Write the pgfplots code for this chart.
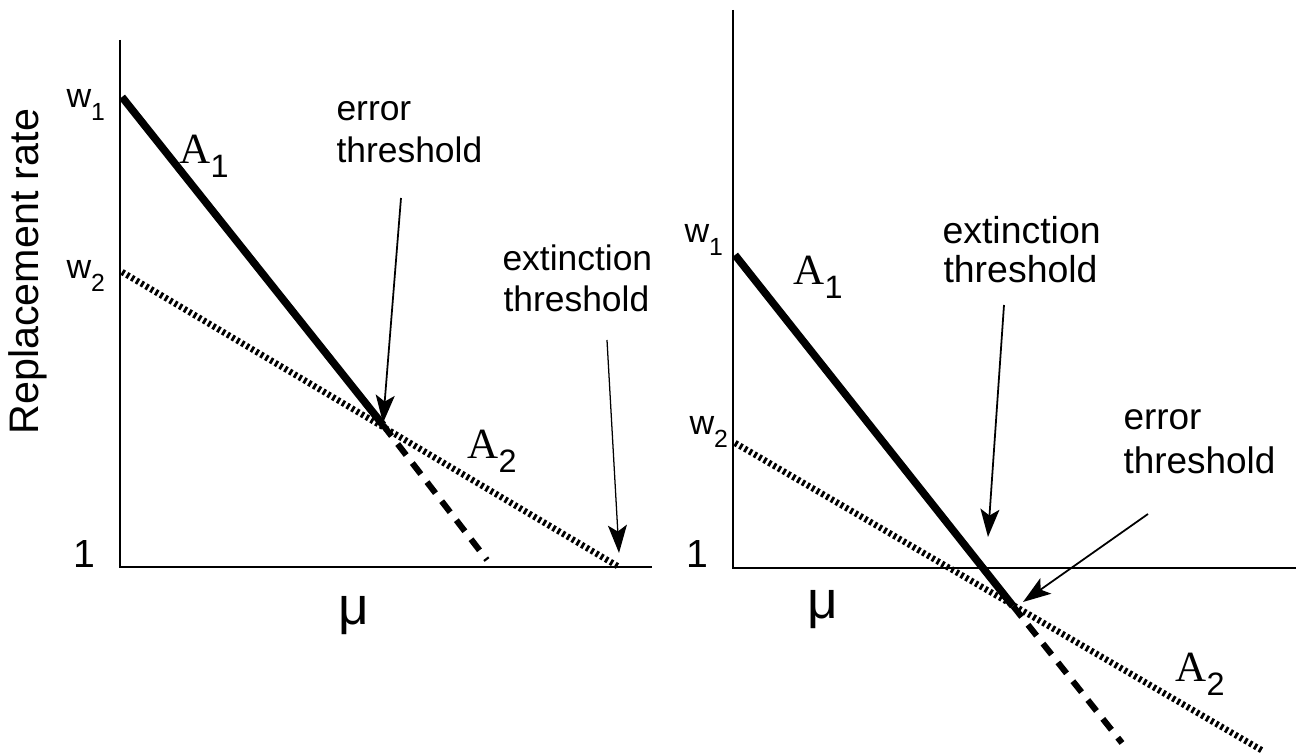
\documentclass[border=0pt]{standalone}
\usepackage{fontspec}
\setmainfont{Liberation Sans}
\newfontfamily\serifA{Liberation Serif}
\usepackage{pgfplots}
\pgfplotsset{compat=1.18}
\usetikzlibrary{arrows.meta}
\newcommand{\wsub}[2]{w\raisebox{-5pt}{\fontsize{9.8}{10}\selectfont #2}}
\newcommand{\Asub}[1]{{\serifA A}\raisebox{-5.5pt}{\fontsize{12.8}{13}\selectfont #1}}
\tikzset{arr/.style={-{Stealth[length=11pt,width=7.5pt,inset=2.5pt]}}}
\begin{document}
\begin{tikzpicture}
\begin{axis}[hide axis, scale only axis, width=18cm, height=10.5cm,
  xmin=0, xmax=1296, ymin=0, ymax=756, y dir=reverse, clip=false]
\coordinate (bl) at (axis cs:0,756);
\coordinate (tr) at (axis cs:1296,0);
% ---------- left panel ----------
\addplot[black, line width=0.8pt] coordinates {(120,40) (120,567) (652,567)};
% A1 solid and its dashed continuation
\addplot[black, line width=3pt] coordinates {(122,97) (383,425)};
\addplot[black, line width=2.4pt, dash pattern=on 5.5pt off 4pt] coordinates {(383,425) (487,560)};
% A2 dotted
\addplot[black, line width=2.5pt, dash pattern=on 1.1pt off 1.1pt] coordinates {(122,272) (619,567)};
% arrows
\draw[black, line width=0.7pt, arr] (axis cs:401,198) -- (axis cs:383,423);
\draw[black, line width=0.5pt, arr] (axis cs:607,340) -- (axis cs:619,553);
% texts
\node[anchor=base west, inner sep=0pt, font=\fontsize{13.5}{14}\selectfont] at (axis cs:66,108) {\wsub{w}{1}};
\node[anchor=base west, inner sep=0pt, font=\fontsize{13.5}{14}\selectfont] at (axis cs:66,279) {\wsub{w}{2}};
\node[anchor=base west, inner sep=0pt, font=\fontsize{17}{18}\selectfont] at (axis cs:179,164) {\Asub{1}};
\node[anchor=base west, inner sep=0pt, font=\fontsize{17}{18}\selectfont] at (axis cs:467,459) {\Asub{2}};
\node[anchor=base west, inner sep=0pt, font=\fontsize{15.5}{17}\selectfont] at (axis cs:73,568) {1};
\node[anchor=base west, inner sep=0pt, font=\fontsize{21}{22}\selectfont] at (axis cs:338,625) {μ};
\node[anchor=base west, inner sep=0pt, rotate=90, font=\fontsize{16.3}{18}\selectfont] at (axis cs:39,435) {Replacement rate};
\node[anchor=base west, inner sep=0pt, font=\fontsize{14}{16}\selectfont] at (axis cs:336,121) {error};
\node[anchor=base west, inner sep=0pt, font=\fontsize{14}{16}\selectfont] at (axis cs:336,163) {threshold};
\node[anchor=base west, inner sep=0pt, font=\fontsize{14}{16}\selectfont] at (axis cs:502,271) {extinction};
\node[anchor=base west, inner sep=0pt, font=\fontsize{14}{16}\selectfont] at (axis cs:503,312) {threshold};
% ---------- right panel ----------
\addplot[black, line width=0.8pt] coordinates {(733,10) (733,568) (1296,568)};
\addplot[black, line width=3pt] coordinates {(735,255) (1013,606)};
\addplot[black, line width=2.4pt, dash pattern=on 5.5pt off 4pt] coordinates {(1013,606) (1122,743)};
\addplot[black, line width=2.5pt, dash pattern=on 1.1pt off 1.1pt] coordinates {(735,443) (1263,751)};
\draw[black, line width=0.7pt, arr] (axis cs:1004,305) -- (axis cs:988,537);
\draw[black, line width=0.7pt, arr] (axis cs:1148,514) -- (axis cs:1023,602);
\node[anchor=base west, inner sep=0pt, font=\fontsize{13.5}{14}\selectfont] at (axis cs:684,243) {\wsub{w}{1}};
\node[anchor=base west, inner sep=0pt, font=\fontsize{13.5}{14}\selectfont] at (axis cs:689,435) {\wsub{w}{2}};
\node[anchor=base west, inner sep=0pt, font=\fontsize{17}{18}\selectfont] at (axis cs:793,285) {\Asub{1}};
\node[anchor=base west, inner sep=0pt, font=\fontsize{17}{18}\selectfont] at (axis cs:1175,682) {\Asub{2}};
\node[anchor=base west, inner sep=0pt, font=\fontsize{15.5}{17}\selectfont] at (axis cs:686,568) {1};
\node[anchor=base west, inner sep=0pt, font=\fontsize{21}{22}\selectfont] at (axis cs:807,619) {μ};
\node[anchor=base west, inner sep=0pt, font=\fontsize{14.8}{17}\selectfont] at (axis cs:942,244) {extinction};
\node[anchor=base west, inner sep=0pt, font=\fontsize{14.8}{17}\selectfont] at (axis cs:943,283) {threshold};
\node[anchor=base west, inner sep=0pt, font=\fontsize{14.6}{17}\selectfont] at (axis cs:1123,430) {error};
\node[anchor=base west, inner sep=0pt, font=\fontsize{14.6}{17}\selectfont] at (axis cs:1123,474) {threshold};
\end{axis}
\pgfresetboundingbox
\path (bl) rectangle (tr);
\end{tikzpicture}
\end{document}
